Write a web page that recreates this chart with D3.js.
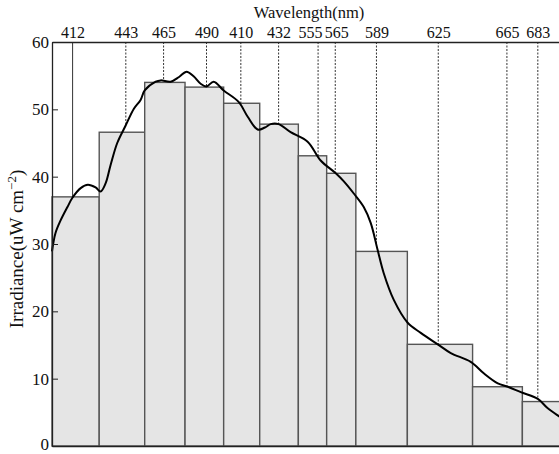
<!DOCTYPE html>
<html>
<head>
<meta charset="utf-8">
<script src="https://cdn.jsdelivr.net/npm/d3@7"></script>
<style>
  body { margin: 0; background: #fff; }
  svg { display: block; font-family: "Liberation Serif", "Times New Roman", serif; }
  svg text { font-family: "Liberation Serif", "Times New Roman", serif; }
</style>
</head>
<body>
<div id="chart"></div>
<script>
let width = 559
let height = 454

// wavelengths of the channels and the labels printed on top
let wavelengths = [412, 443, 465, 490, 510, 532, 555, 565, 589, 625, 665, 683]
let tickLabels = ['412', '443', '465', '490', '410', '432', '555', '565', '589', '625', '665', '683']
// band edges (nm) and band irradiance
let binEdges = [400, 427.5, 454, 477.5, 500, 521, 543.5, 560, 577, 607, 645, 674, 700]
let binValues = [37.0, 46.6, 54.0, 53.3, 50.9, 47.8, 43.1, 40.5, 28.9, 15.1, 8.8, 6.6]
// measured spectrum
let specNm = [400, 402, 405, 409, 412, 416.7, 420.9, 425.4, 428.3, 431.2, 434.1, 438, 442.9, 447.7, 451.6,
  454, 460.4, 463.3, 469.1, 474, 478.4, 482.5, 486.6, 490, 494.2, 500, 508.7, 514, 519.8, 524, 527.4, 532,
  539, 548.9, 556.5, 565.3, 570, 575.8, 581.6, 585.7, 589.7, 593.2, 599.1, 607.2, 614.8, 624.7, 632.3,
  643.9, 651.5, 659.7, 665.5, 673.1, 683, 688.8, 696, 700]
let specVal = [28.9, 31.6, 33.5, 35.5, 36.9, 38.3, 38.8, 38.4, 37.8, 39.0, 41.7, 45.0, 47.6, 50.1, 51.4,
  52.8, 54.1, 54.3, 54.1, 54.8, 55.6, 54.9, 53.8, 53.4, 54.1, 52.8, 51.1, 48.9, 47.0, 47.3, 47.8, 47.8,
  46.6, 45.2, 42.4, 40.5, 39.3, 37.5, 35.5, 33.1, 29.1, 25.7, 21.7, 18.3, 16.8, 15.1, 13.8,
  12.5, 10.8, 9.3, 8.8, 8.0, 7.0, 5.6, 4.3, 3.6]
let yTicks = [0, 10, 20, 30, 40, 50, 60]

let svg = d3.select('#chart').append('svg')
  .attr('width', width)
  .attr('height', height)

let xScale = d3.scaleLinear().domain([400, 700]).range([52, 567])
let yScale = d3.scaleLinear().domain([0, 60]).range([446, 42])

// -- bars
let bins = binValues.map((v, i) => ({ x0: binEdges[i], x1: binEdges[i + 1], v: v }))
svg.append('g').selectAll('rect')
  .data(bins)
  .enter()
  .append('rect')
  .attr('x', d => xScale(d.x0))
  .attr('y', d => yScale(d.v))
  .attr('width', d => xScale(d.x1) - xScale(d.x0))
  .attr('height', d => yScale(0) - yScale(d.v))
  .style('fill', '#e5e5e5')
  .style('stroke', '#555')
  .style('stroke-width', 1.4)

// value of the spectrum at a wavelength (for the marker lines)
let bis = d3.bisector(d => d).left
function specAt(nm) {
  let i = Math.max(1, bis(specNm, nm))
  let t = (nm - specNm[i - 1]) / (specNm[i] - specNm[i - 1])
  return specVal[i - 1] + t * (specVal[i] - specVal[i - 1])
}

// -- marker lines from the top axis down to the curve
svg.append('g').selectAll('line')
  .data(wavelengths)
  .enter()
  .append('line')
  .attr('x1', d => xScale(d))
  .attr('x2', d => xScale(d))
  .attr('y1', yScale(60))
  .attr('y2', d => yScale(specAt(d)))
  .style('stroke', '#333')
  .style('stroke-width', 1)
  .style('stroke-dasharray', (d, i) => i == 0 ? null : '2,1.5')

// -- spectrum curve
let line = d3.line()
  .x((d, i) => xScale(specNm[i]))
  .y(d => yScale(d))
  .curve(d3.curveCatmullRom.alpha(0.5))
svg.append('path')
  .datum(specVal)
  .attr('d', line)
  .style('fill', 'none')
  .style('stroke', '#000')
  .style('stroke-width', 2)

// -- axes
let topAxis = d3.axisTop(xScale)
  .tickValues(wavelengths)
  .tickFormat((d, i) => tickLabels[i])
  .tickSize(0)
  .tickPadding(4)
svg.append('g')
  .attr('transform', 'translate(0,' + yScale(60) + ')')
  .call(topAxis)
  .attr('font-family', null)
  .attr('font-size', 16)
  .call(g => g.select('.domain').attr('stroke', '#222').attr('stroke-width', 1.3))
  .call(g => g.selectAll('text').attr('fill', '#111'))
  // 555 and 565 sit close together: nudge them apart as in the original
  .call(g => g.selectAll('.tick text').filter(d => d == 555).attr('dx', -8))
  .call(g => g.selectAll('.tick text').filter(d => d == 565).attr('dx', 1))

svg.append('g')
  .attr('transform', 'translate(0,' + yScale(0) + ')')
  .call(d3.axisBottom(xScale).tickValues([]).tickSizeOuter(0))
  .call(g => g.select('.domain').attr('stroke', '#222').attr('stroke-width', 1.3))

let leftAxis = d3.axisLeft(yScale)
  .tickValues(yTicks)
  .tickSizeInner(-6)
  .tickSizeOuter(0)
  .tickPadding(3)
svg.append('g')
  .attr('transform', 'translate(52,0)')
  .call(leftAxis)
  .attr('font-family', null)
  .attr('font-size', 17)
  .call(g => g.select('.domain').attr('stroke', '#222').attr('stroke-width', 1.3))
  .call(g => g.selectAll('.tick line').attr('stroke', '#222'))
  .call(g => g.selectAll('text').attr('fill', '#111'))
  .call(g => g.selectAll('.tick text').filter(d => d == 0).attr('dy', '0.2em'))

// -- titles
svg.append('text')
  .attr('x', 309)
  .attr('y', 18)
  .attr('text-anchor', 'middle')
  .attr('font-size', 16.5)
  .attr('fill', '#111')
  .text('Wavelength(nm)')

let yLabel = svg.append('text')
  .attr('transform', 'translate(23,249) rotate(-90)')
  .attr('text-anchor', 'middle')
  .attr('font-size', 19)
  .attr('fill', '#111')
yLabel.append('tspan').text('Irradiance(uW cm')
yLabel.append('tspan').attr('font-size', 13).attr('dy', -7).text('\u22122')
yLabel.append('tspan').attr('dy', 7).text(')')
</script>
</body>
</html>
